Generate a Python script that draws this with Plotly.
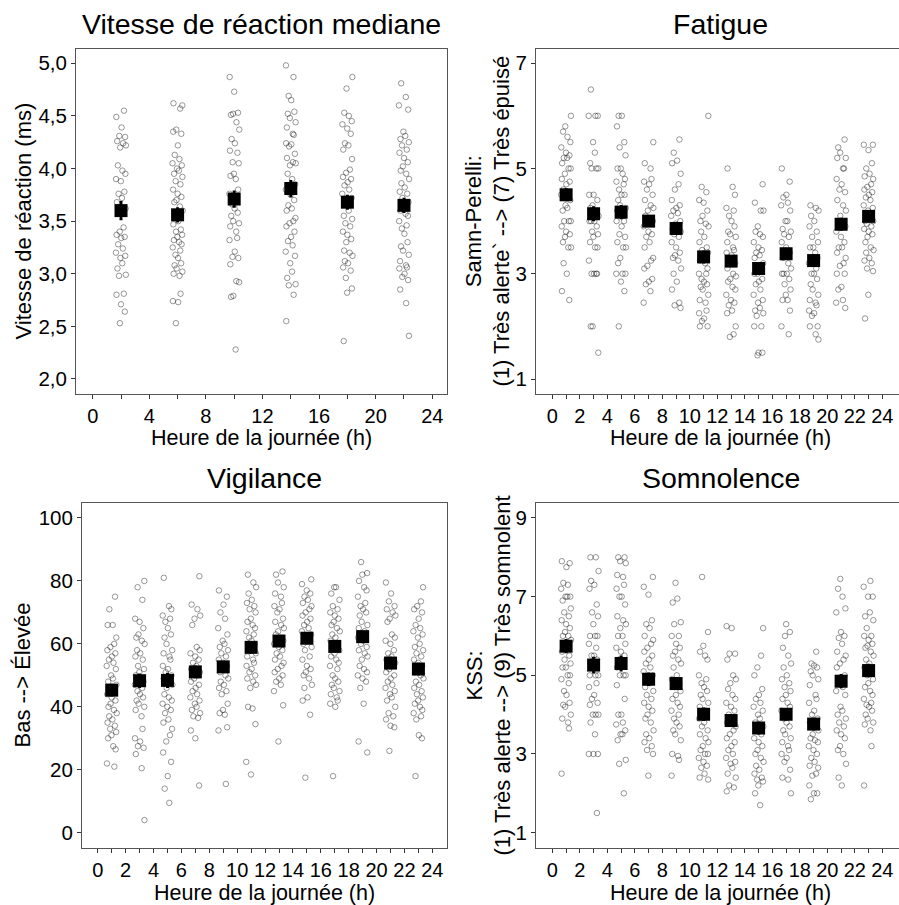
import plotly.graph_objects as go

# ---------------- data ----------------
RT_HOURS = [2, 6, 10, 14, 18, 22]
RT_MEANS = [3.60, 3.56, 3.71, 3.81, 3.68, 3.65]
RT_SE = [0.08, 0.06, 0.07, 0.07, 0.06, 0.06]
RT_POINTS = [
    [4.55, 4.49, 4.39, 4.31, 4.30, 4.26, 4.24, 4.22, 4.20, 4.03, 3.98, 3.95, 3.90, 3.88, 3.78, 3.76, 3.72,
     3.68, 3.62, 3.44, 3.40, 3.37, 3.35, 3.34, 3.28, 3.24, 3.20, 3.17, 3.15, 3.10, 3.05, 2.99, 2.98, 2.81,
     2.80, 2.71, 2.64, 2.53],
    [4.62, 4.60, 4.57, 4.37, 4.35, 4.33, 4.22, 4.13, 4.09, 4.05, 4.03, 4.00, 3.98, 3.95, 3.92, 3.88, 3.85,
     3.80, 3.76, 3.73, 3.70, 3.68, 3.64, 3.60, 3.55, 3.50, 3.47, 3.42, 3.40, 3.37, 3.35, 3.32, 3.30, 3.28,
     3.25, 3.22, 3.18, 3.15, 3.10, 3.08, 3.05, 3.02, 3.00, 2.98, 2.81, 2.74, 2.73, 2.53],
    [4.87, 4.73, 4.53, 4.52, 4.51, 4.44, 4.37, 4.28, 4.24, 4.17, 4.15, 4.06, 4.05, 3.95, 3.93, 3.90, 3.80,
     3.76, 3.70, 3.66, 3.62, 3.58, 3.55, 3.50, 3.48, 3.45, 3.40, 3.34, 3.32, 3.21, 3.16, 3.15, 3.09, 2.93,
     2.92, 2.79, 2.78, 2.28],
    [4.98, 4.87, 4.69, 4.65, 4.54, 4.52, 4.48, 4.44, 4.39, 4.33, 4.32, 4.24, 4.23, 4.21, 4.14, 4.10, 4.06,
     4.05, 4.03, 3.95, 3.90, 3.85, 3.80, 3.75, 3.70, 3.65, 3.62, 3.60, 3.53, 3.50, 3.48, 3.45, 3.40, 3.35,
     3.31, 3.27, 3.21, 3.17, 3.10, 3.02, 2.96, 2.90, 2.89, 2.80, 2.55],
    [4.87, 4.76, 4.53, 4.50, 4.45, 4.42, 4.38, 4.33, 4.24, 4.22, 4.18, 4.09, 3.99, 3.96, 3.92, 3.90, 3.87,
     3.84, 3.80, 3.76, 3.72, 3.65, 3.60, 3.55, 3.52, 3.48, 3.45, 3.40, 3.37, 3.33, 3.30, 3.22, 3.20, 3.17,
     3.12, 3.10, 3.06, 3.03, 2.96, 2.86, 2.82, 2.36],
    [4.81, 4.68, 4.60, 4.56, 4.35, 4.31, 4.28, 4.25, 4.22, 4.18, 4.15, 4.10, 4.06, 4.02, 3.98, 3.95, 3.90,
     3.86, 3.82, 3.78, 3.76, 3.72, 3.68, 3.63, 3.60, 3.57, 3.55, 3.50, 3.46, 3.43, 3.38, 3.30, 3.26, 3.22,
     3.18, 3.12, 3.08, 3.06, 3.05, 3.00, 2.97, 2.94, 2.85, 2.72, 2.41],
]

HOURS = [1, 3, 5, 7, 9, 11, 13, 15, 17, 19, 21, 23]

SP_MEANS = [4.50, 4.14, 4.17, 4.00, 3.86, 3.32, 3.24, 3.10, 3.38, 3.25, 3.94, 4.09]
SP_SE = [0.10, 0.12, 0.11, 0.09, 0.09, 0.10, 0.09, 0.09, 0.09, 0.09, 0.10, 0.09]
SP_POINTS = [
    [6.0, 5.8, 5.7, 5.6, 5.5, 5.4, 5.3, 5.25, 5.2, 5.2, 5.1, 5.0, 5.0, 4.9, 4.8, 4.75, 4.7, 4.6, 4.5, 4.5,
     4.4, 4.3, 4.25, 4.2, 4.0, 4.0, 4.0, 3.9, 3.8, 3.75, 3.7, 3.6, 3.5, 3.5, 3.2, 3.0, 2.67, 2.5],
    [6.5, 6.0, 6.0, 6.0, 5.5, 5.3, 5.1, 5.0, 5.0, 5.0, 4.5, 4.5, 4.4, 4.3, 4.25, 4.2, 4.1, 4.0, 4.0, 4.0,
     3.9, 3.8, 3.75, 3.7, 3.6, 3.5, 3.5, 3.25, 3.0, 3.0, 3.0, 3.0, 2.0, 2.0, 1.5],
    [6.0, 6.0, 5.8, 5.5, 5.4, 5.25, 5.0, 5.0, 4.9, 4.8, 4.75, 4.7, 4.6, 4.5, 4.5, 4.4, 4.3, 4.25, 4.2, 4.1,
     4.0, 4.0, 3.9, 3.75, 3.7, 3.6, 3.5, 3.5, 3.3, 3.2, 3.0, 3.0, 3.0, 2.85, 2.67, 2.0],
    [5.5, 5.1, 5.0, 4.8, 4.75, 4.7, 4.6, 4.5, 4.4, 4.3, 4.25, 4.2, 4.1, 4.0, 4.0, 3.9, 3.8, 3.75, 3.7, 3.6,
     3.5, 3.3, 3.25, 3.15, 3.1, 2.9, 2.85, 2.8, 2.67, 2.45],
    [5.55, 5.3, 5.15, 5.1, 4.9, 4.7, 4.6, 4.4, 4.3, 4.25, 4.2, 4.15, 4.1, 4.0, 3.95, 3.9, 3.85, 3.8, 3.75,
     3.7, 3.6, 3.5, 3.4, 3.35, 3.3, 3.25, 3.1, 3.0, 2.85, 2.7, 2.45, 2.4, 2.35],
    [6.0, 4.65, 4.55, 4.4, 4.35, 4.2, 4.1, 4.0, 3.95, 3.9, 3.8, 3.7, 3.6, 3.5, 3.45, 3.4, 3.3, 3.25, 3.2,
     3.1, 3.0, 3.0, 2.9, 2.85, 2.8, 2.75, 2.7, 2.6, 2.5, 2.45, 2.3, 2.25, 2.15, 2.1, 2.0, 2.0],
    [5.0, 4.65, 4.5, 4.25, 4.2, 4.1, 4.0, 3.9, 3.8, 3.75, 3.7, 3.6, 3.5, 3.45, 3.4, 3.35, 3.3, 3.2, 3.1,
     3.0, 2.95, 2.9, 2.85, 2.75, 2.7, 2.6, 2.5, 2.45, 2.4, 2.3, 2.25, 2.0, 1.85, 1.8],
    [4.7, 4.35, 4.2, 4.2, 3.9, 3.8, 3.75, 3.7, 3.6, 3.5, 3.45, 3.4, 3.35, 3.3, 3.2, 3.1, 3.0, 3.0, 2.9,
     2.85, 2.8, 2.7, 2.6, 2.5, 2.45, 2.35, 2.3, 2.25, 2.2, 2.0, 2.0, 1.5, 1.5, 1.45],
    [5.0, 4.75, 4.5, 4.45, 4.35, 4.3, 4.2, 4.0, 4.0, 3.85, 3.8, 3.75, 3.7, 3.6, 3.5, 3.4, 3.35, 3.3, 3.2,
     3.1, 3.0, 3.0, 3.0, 2.9, 2.8, 2.7, 2.6, 2.5, 2.5, 2.3, 2.0, 1.85],
    [4.3, 4.25, 4.2, 4.1, 4.0, 3.9, 3.8, 3.7, 3.6, 3.5, 3.5, 3.4, 3.3, 3.2, 3.1, 3.0, 3.0, 2.9, 2.8, 2.7,
     2.6, 2.5, 2.45, 2.4, 2.3, 2.25, 2.2, 2.0, 2.0, 1.85, 1.75],
    [5.55, 5.4, 5.3, 5.2, 5.2, 5.0, 5.0, 4.8, 4.7, 4.6, 4.55, 4.4, 4.3, 4.2, 4.1, 4.0, 4.0, 3.9, 3.8, 3.7,
     3.6, 3.5, 3.5, 3.4, 3.3, 3.2, 3.15, 3.0, 3.0, 2.75, 2.7, 2.5, 2.45, 2.35],
    [5.45, 5.45, 5.35, 5.1, 5.0, 4.9, 4.85, 4.8, 4.7, 4.65, 4.6, 4.55, 4.5, 4.45, 4.4, 4.3, 4.25, 4.2,
     4.1, 4.0, 4.0, 3.95, 3.9, 3.85, 3.8, 3.75, 3.7, 3.6, 3.5, 3.45, 3.4, 3.3, 3.25, 3.2, 3.1, 3.05, 2.6,
     2.15],
]

VIG_MEANS = [45.3, 48.3, 48.4, 51.1, 52.7, 58.9, 60.9, 61.8, 59.2, 62.3, 53.9, 52.0]
VIG_SE = [1.6, 1.9, 2.0, 1.6, 1.5, 1.6, 1.4, 1.5, 1.5, 1.5, 1.6, 1.6]
VIG_POINTS = [
    [75, 71, 66, 66, 62, 60, 59, 58, 57, 56, 55, 54, 53, 52, 50, 49, 48, 47, 46, 45, 44, 43, 42, 41, 40,
     39, 38, 37, 36, 35, 34, 33, 32, 31, 30, 27.5, 26.5, 22, 21],
    [80, 78, 74, 68, 67, 65, 63, 62, 61, 60, 58, 57, 56, 55, 53, 52, 51, 50, 49, 48, 47, 46, 45, 44, 43,
     42, 41, 40, 39, 37, 33, 30, 29, 27.5, 27, 25, 20.5, 4],
    [81, 72, 71, 69, 68, 67, 65, 63, 62, 60, 58, 57, 56, 55, 53, 52, 51, 50, 49, 48, 47, 46, 44, 43, 42,
     41, 40, 39, 38, 36, 35, 33, 31, 29, 25.5, 22.5, 18, 14, 9.5],
    [81.5, 72.5, 71, 69, 68, 66, 59, 58, 57, 56, 55, 54, 53, 52, 51, 50, 49, 48, 47, 46, 45, 44, 43, 42,
     41, 40, 39, 38, 37, 36.5, 32.5, 30, 15],
    [77, 75, 72.5, 70, 68, 65, 63, 61, 60, 59, 58, 57, 56, 55, 54, 53, 52, 51, 50, 49, 48, 47, 46, 45, 44,
     41, 39, 38, 37.5, 33.5, 32.5, 15.5],
    [82, 79.5, 78, 76, 74, 73, 72, 71, 70, 68, 67, 66, 65, 64, 63, 62, 61, 60, 59, 58, 57, 56, 55, 54, 53,
     52, 51, 50, 49, 48, 47, 46, 40, 39.5, 34.5, 22.5, 18.5],
    [83, 82, 79.5, 78, 76, 75, 73, 72, 71, 70, 68, 67, 66, 65, 64, 63, 62, 61, 60, 59, 58, 57, 56, 55, 54,
     53, 52, 51, 50, 49, 48, 47, 45, 40.5, 29],
    [80.5, 79, 77, 76, 75, 74, 73, 72, 71, 70, 69, 68, 67, 66, 65, 64, 63, 62, 61, 60, 59, 58, 56, 55, 53,
     52, 51, 50, 49, 47, 46, 43, 42, 37.5, 17.5],
    [78, 78, 76, 74, 72, 71, 70, 69, 68, 67, 66, 65, 64, 63, 62, 61, 60, 59, 58, 57, 56, 55, 54, 53, 52,
     50, 49, 48, 47, 46, 45, 44, 43, 42, 41, 40, 18],
    [86, 82.5, 82, 80, 78, 77, 75, 73, 72, 71, 70, 69, 67, 66, 65, 64, 63, 62, 61, 60, 59, 58, 57, 56, 55,
     53, 52, 51, 50, 49, 48, 46, 41, 29, 25.5],
    [79.5, 76, 73.5, 72, 71, 70, 69, 68, 67, 63, 62, 61, 60, 58, 57, 56, 55, 54, 53, 52, 51, 50, 49, 48,
     47, 46, 45, 44, 43, 42, 40, 38, 37, 36, 34, 33.5, 26],
    [78, 73.5, 72, 71, 70, 68, 66, 65, 64, 63, 62, 60, 59, 58, 57, 56, 55, 54, 53, 52, 51, 50, 49, 48, 47,
     46, 45, 44, 43, 42, 41, 40, 39, 38, 37, 36, 31, 30, 18],
]

KSS_MEANS = [5.74, 5.26, 5.30, 4.90, 4.79, 4.01, 3.85, 3.66, 4.01, 3.76, 4.85, 5.12]
KSS_SE = [0.15, 0.18, 0.17, 0.14, 0.13, 0.14, 0.13, 0.13, 0.13, 0.13, 0.15, 0.14]
KSS_POINTS = [
    [7.9, 7.85, 7.75, 7.35, 7.3, 7.2, 7.0, 7.0, 7.0, 6.9, 6.7, 6.6, 6.5, 6.4, 6.3, 6.2, 6.1, 6.0, 6.0, 5.9,
     5.8, 5.7, 5.6, 5.5, 5.4, 5.3, 5.2, 5.2, 5.0, 5.0, 4.9, 4.8, 4.6, 4.5, 4.3, 4.25, 4.2, 4.0, 3.9, 3.8,
     3.65, 2.5],
    [8.0, 8.0, 7.65, 7.4, 7.3, 7.2, 6.8, 6.6, 6.5, 6.3, 6.0, 6.0, 6.0, 5.8, 5.7, 5.5, 5.5, 5.4, 5.3, 5.2,
     5.0, 5.0, 5.0, 4.8, 4.7, 4.5, 4.4, 4.3, 4.25, 4.0, 4.0, 4.0, 3.8, 3.5, 3.0, 3.0, 3.0, 1.5],
    [8.0, 8.0, 7.9, 7.85, 7.55, 7.5, 7.3, 7.2, 7.0, 7.0, 6.8, 6.5, 6.4, 6.3, 6.2, 6.0, 6.0, 5.8, 5.7, 5.6,
     5.5, 5.4, 5.3, 5.2, 5.0, 5.0, 5.0, 4.75, 4.4, 4.0, 4.0, 3.8, 3.75, 3.6, 3.5, 3.5, 3.35, 2.85, 2.75,
     2.0],
    [7.5, 7.25, 7.05, 6.4, 6.3, 6.2, 6.0, 5.9, 5.8, 5.7, 5.6, 5.5, 5.4, 5.3, 5.2, 5.1, 5.0, 4.9, 4.8, 4.7,
     4.6, 4.5, 4.4, 4.3, 4.2, 4.1, 4.0, 3.9, 3.8, 3.6, 3.5, 3.4, 3.3, 3.2, 3.1, 3.0, 2.45],
    [7.35, 6.95, 6.85, 6.35, 6.3, 6.0, 6.0, 5.8, 5.7, 5.6, 5.5, 5.4, 5.3, 5.2, 5.0, 4.9, 4.8, 4.7, 4.6,
     4.5, 4.4, 4.3, 4.2, 4.1, 4.0, 3.9, 3.8, 3.7, 3.6, 3.5, 3.35, 3.0, 2.95, 2.85, 2.45],
    [7.5, 6.1, 5.75, 5.6, 5.5, 5.4, 5.0, 4.9, 4.8, 4.7, 4.6, 4.5, 4.4, 4.3, 4.2, 4.1, 4.0, 3.9, 3.8, 3.7,
     3.6, 3.5, 3.4, 3.3, 3.2, 3.1, 3.0, 3.0, 2.9, 2.8, 2.7, 2.65, 2.5, 2.4, 2.35],
    [6.25, 6.2, 5.55, 5.55, 5.4, 5.0, 4.9, 4.8, 4.65, 4.5, 4.4, 4.3, 4.2, 4.1, 4.0, 3.9, 3.8, 3.7, 3.6,
     3.5, 3.4, 3.3, 3.2, 3.1, 3.0, 2.9, 2.8, 2.75, 2.65, 2.5, 2.4, 2.2, 2.15, 2.05],
    [6.2, 5.5, 5.2, 5.0, 4.65, 4.5, 4.4, 4.3, 4.2, 4.1, 4.0, 3.9, 3.8, 3.7, 3.6, 3.5, 3.4, 3.3, 3.2, 3.1,
     3.0, 2.9, 2.8, 2.7, 2.6, 2.5, 2.4, 2.35, 2.3, 2.2, 2.0, 1.7],
    [6.3, 6.1, 6.0, 5.7, 5.5, 5.3, 5.2, 5.0, 4.9, 4.8, 4.7, 4.6, 4.5, 4.4, 4.3, 4.2, 4.1, 4.0, 3.9, 3.8,
     3.7, 3.6, 3.5, 3.4, 3.3, 3.2, 3.1, 3.0, 2.9, 2.8, 2.6, 2.4, 2.35, 2.0],
    [5.6, 5.3, 5.25, 5.2, 5.1, 5.0, 4.9, 4.75, 4.5, 4.4, 4.3, 4.1, 4.0, 3.9, 3.8, 3.7, 3.6, 3.5, 3.4,
     3.35, 3.3, 3.2, 3.1, 3.0, 2.9, 2.8, 2.7, 2.65, 2.5, 2.45, 2.2, 2.0, 2.0, 1.85],
    [7.45, 7.2, 7.0, 6.7, 6.6, 6.1, 6.0, 5.95, 5.8, 5.6, 5.5, 5.4, 5.3, 5.2, 5.0, 4.9, 4.8, 4.7, 4.6, 4.5,
     4.2, 4.1, 4.0, 3.9, 3.8, 3.7, 3.6, 3.5, 3.4, 3.2, 3.1, 3.0, 2.75, 2.4, 2.2],
    [7.4, 7.25, 7.0, 7.0, 6.6, 6.5, 6.4, 6.2, 6.0, 6.0, 5.9, 5.8, 5.75, 5.7, 5.6, 5.5, 5.4, 5.3, 5.2, 5.1,
     5.0, 4.9, 4.8, 4.7, 4.6, 4.5, 4.4, 4.3, 4.25, 4.2, 4.1, 4.0, 3.9, 3.8, 3.75, 3.6, 3.2, 2.2],
]

TITLES = ["Vitesse de réaction mediane", "Fatigue", "Vigilance", "Somnolence"]
X_TITLE = "Heure de la journée (h)"
Y_TITLES = [
    "Vitesse de réaction (ms)",
    "Samn-Perelli:<br>(1) Très alerte` --> (7) Très épuisé",
    "Bas --> Élevée",
    "KSS:<br>(1) Très alerte --> (9) Très somnolent",
]

# ---------------- style / layout constants ----------------
W, H = 899, 905
FONT = "Liberation Sans, Arial, sans-serif"
# fixed horizontal jitter offsets (hours), irregular on purpose
JITTER = [0.21, -0.33, 0.04, -0.12, 0.29, -0.27, 0.15, 0.35, -0.06, -0.22, 0.10, 0.31, -0.35, -0.01,
          0.24, -0.17, 0.07, -0.29, 0.33, 0.18, -0.09, -0.31, 0.26, 0.02, -0.20, 0.13, -0.36, 0.30,
          -0.04, 0.09, -0.25, 0.34, -0.14, 0.20, -0.32, 0.00, 0.27, -0.08, -0.23, 0.16, 0.36, -0.18,
          0.05, -0.30, 0.23, -0.11, 0.32, -0.02, -0.26, 0.11, 0.28, -0.34, 0.19, -0.15, 0.03, 0.25,
          -0.21, -0.07, 0.34, -0.28, 0.14]
BORDER = "#555555"
TICKC = "#333333"

# pixel boxes: (left, right, top, bottom)
BOX = [(76, 447, 49, 394), (536, 899, 49, 394), (82, 447, 503, 848), (536, 899, 503, 848)]
XRANGES = [[-1.18, 25.04], [-1.19, 25.21], [-1.13, 25.05], [-1.19, 25.21]]
YRANGES = [[1.857, 5.136], [0.715, 7.27], [-4.85, 104.76], [0.61, 9.38]]
YTICKS = [[2.0, 2.5, 3.0, 3.5, 4.0, 4.5, 5.0], [1, 3, 5, 7], [0, 20, 40, 60, 80, 100], [1, 3, 5, 7, 9]]

panels = [
    (RT_HOURS, RT_MEANS, RT_SE, RT_POINTS),
    (HOURS, SP_MEANS, SP_SE, SP_POINTS),
    (HOURS, VIG_MEANS, VIG_SE, VIG_POINTS),
    (HOURS, KSS_MEANS, KSS_SE, KSS_POINTS),
]

fig = go.Figure()
for p, (hrs, means, se, pts) in enumerate(panels):
    xa = "x" if p == 0 else f"x{p + 1}"
    ya = "y" if p == 0 else f"y{p + 1}"
    xs, ys = [], []
    for g, (h, vals) in enumerate(zip(hrs, pts)):
        for i, v in enumerate(vals):
            xs.append(h + JITTER[(i + g * 17 + p * 7) % len(JITTER)])
            ys.append(v)
    fig.add_trace(go.Scatter(
        x=xs, y=ys, mode="markers", xaxis=xa, yaxis=ya, showlegend=False,
        marker=dict(symbol="circle-open", size=5.5, color="rgba(0,0,0,0.5)", line=dict(width=0.8)),
        hoverinfo="skip"))
    fig.add_trace(go.Scatter(
        x=hrs, y=means, mode="markers", xaxis=xa, yaxis=ya, showlegend=False,
        error_y=dict(type="data", array=se, color="black", thickness=2.5, width=1.5),
        marker=dict(symbol="square", size=13, color="black")))

layout = dict(
    width=W, height=H, margin=dict(l=0, r=0, t=0, b=0),
    paper_bgcolor="white", plot_bgcolor="white",
    font=dict(family=FONT, color="black", size=20),
    separators=", ",
    showlegend=False,
)
annotations = []
for p in range(4):
    l, r, t, b = BOX[p]
    xd = [l / W, min(r / W, 1.0)]
    yd = [1 - b / H, 1 - t / H]
    right_panel = p in (1, 3)
    xkey = "xaxis" if p == 0 else f"xaxis{p + 1}"
    ykey = "yaxis" if p == 0 else f"yaxis{p + 1}"
    yanchor = "y" if p == 0 else f"y{p + 1}"
    xanchor = "x" if p == 0 else f"x{p + 1}"
    major = 4 if p == 0 else 2
    minor = 2 if p == 0 else 1
    layout[xkey] = dict(
        domain=xd, anchor=yanchor, range=XRANGES[p], autorange=False,
        tickmode="array", tickvals=list(range(0, 25, major)),
        ticks="outside", ticklen=4, tickwidth=1, tickcolor=TICKC,
        minor=dict(tickmode="array", tickvals=list(range(0, 25, minor)), ticks="outside", ticklen=4,
                   tickwidth=1, tickcolor=TICKC, showgrid=False),
        showgrid=False, zeroline=False,
        showline=True, linecolor=BORDER, linewidth=1, mirror=True,
        tickfont=dict(size=20, color="black"), automargin=False,
    )
    layout[ykey] = dict(
        domain=yd, anchor=xanchor, range=YRANGES[p], autorange=False,
        tickmode="array", tickvals=YTICKS[p],
        tickformat=".1f" if p == 0 else "d",
        ticks="outside", ticklen=4, tickwidth=1, tickcolor=TICKC,
        showgrid=False, zeroline=False,
        showline=True, linecolor=BORDER, linewidth=1, mirror=False if right_panel else True,
        tickfont=dict(size=20.5, color="black"), automargin=False,
    )
    cx = (l + (905 if right_panel else r)) / 2
    # subplot title
    annotations.append(dict(text=TITLES[p], x=cx / W, y=1 - (t - 25) / H, xref="paper", yref="paper",
                            xanchor="center", yanchor="middle", showarrow=False,
                            font=dict(size=28.5, color="black")))
    # x title
    annotations.append(dict(text=X_TITLE, x=cx / W, y=1 - (b + 44.5) / H, xref="paper", yref="paper",
                            xanchor="center", yanchor="middle", showarrow=False,
                            font=dict(size=21.5, color="black")))
    # y title
    ycx = (488 if right_panel else (23 if p == 0 else 22))
    annotations.append(dict(text=Y_TITLES[p], x=ycx / W, y=1 - ((t + b) / 2) / H, xref="paper",
                            yref="paper", xanchor="center", yanchor="middle", showarrow=False,
                            textangle=-90, align="center",
                            font=dict(size=22, color="black")))
layout["annotations"] = annotations
fig.update_layout(**layout)
fig.write_html("out.html")
